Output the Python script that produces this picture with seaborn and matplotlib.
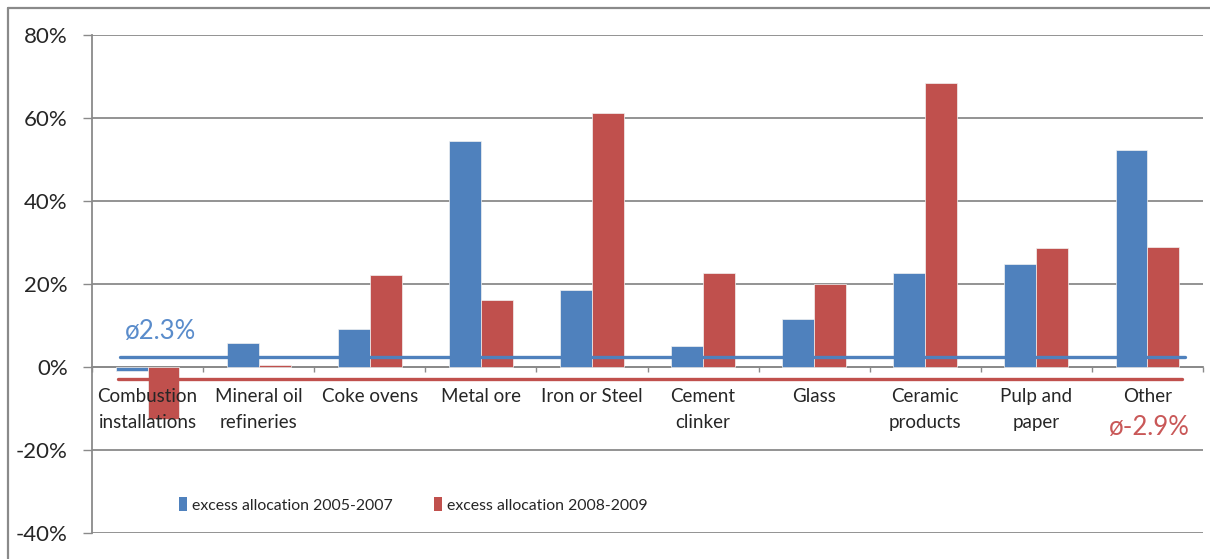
import matplotlib
matplotlib.use("Agg")
import matplotlib.pyplot as plt
from matplotlib.patches import Patch
from matplotlib.lines import Line2D
import seaborn as sns
import pandas as pd

# Sector categories and excess allocation shares (%)
categories = ["Combustion\ninstallations", "Mineral oil\nrefineries", "Coke ovens",
              "Metal ore", "Iron or Steel", "Cement\nclinker", "Glass",
              "Ceramic\nproducts", "Pulp and\npaper", "Other"]
excess_2005_2007 = [-0.9, 5.8, 9.2, 54.5, 18.4, 4.9, 11.6, 22.7, 24.9, 52.2]
excess_2008_2009 = [-12.5, 0.5, 22.2, 16.0, 61.2, 22.7, 20.0, 68.5, 28.6, 29.0]
series_names = ["excess allocation 2005-2007", "excess allocation 2008-2009"]
avg_2005_2007 = 2.3
avg_2008_2009 = -2.9
y_ticks = [-40, -20, 0, 20, 40, 60, 80]

BLUE = "#4F81BD"
RED = "#C0504D"
GRID = "#8A8A8A"
TEXT = "#262626"

sns.set_style("white")
plt.rcParams["font.family"] = ["Lato", "DejaVu Sans"]

df = pd.DataFrame({
    "category": categories * 2,
    "value": excess_2005_2007 + excess_2008_2009,
    "period": [series_names[0]] * len(categories) + [series_names[1]] * len(categories),
})

W, H = 1210, 559
fig = plt.figure(figsize=(W / 100, H / 100), dpi=100)
ax = fig.add_axes([92 / W, 26.3 / H, 1111 / W, (532.7 - 35) / H])

sns.barplot(data=df, x="category", y="value", hue="period", order=categories,
            hue_order=series_names, palette=[BLUE, RED], saturation=1,
            width=0.575, gap=0, errorbar=None, legend=False,
            edgecolor="#f2f2f2", linewidth=0.5, ax=ax, zorder=2)

ax.set_xlim(-0.5, len(categories) - 0.5)
ax.set_ylim(-40, 80)
ax.set_xlabel("")
ax.set_ylabel("")

# horizontal gridlines sit behind the bars, category labels in front of them
ax.yaxis.set_zorder(0.5)
ax.xaxis.set_zorder(4)

ax.set_yticks(y_ticks)
ax.set_yticklabels([f"{t}%" for t in y_ticks])
ax.yaxis.grid(True, color=GRID, linewidth=1.3)
ax.tick_params(axis="y", length=6.5, width=1.0, color=GRID, pad=11,
               labelsize=16, labelcolor=TEXT, direction="out", left=True)

# spines: left axis line, category axis crossing at zero
for s in ("top", "right"):
    ax.spines[s].set_visible(False)
ax.spines["left"].set_color(GRID)
ax.spines["left"].set_linewidth(1.3)
ax.spines["bottom"].set_position(("data", 0))
ax.spines["bottom"].set_color(GRID)
ax.spines["bottom"].set_linewidth(1.3)
ax.spines["bottom"].set_zorder(1.5)

ax.set_xticks(range(len(categories)))
ax.set_xticklabels(categories, linespacing=1.68)
ax.set_xticks([i - 0.5 for i in range(len(categories) + 1)], minor=True)
ax.tick_params(axis="x", which="major", length=0, pad=15, labelsize=13.5,
               labelcolor=TEXT)
ax.tick_params(axis="x", which="minor", length=3.8, width=1.0, color=GRID,
               direction="out", bottom=True)

# average lines with their labels
ax.axhline(avg_2005_2007, xmin=0.025, xmax=0.984, color=BLUE, linewidth=2.4, zorder=5)
ax.axhline(avg_2008_2009, xmin=0.0235, xmax=0.981, color=RED, linewidth=2.4, zorder=5)
ax.annotate(f"ø{avg_2005_2007}%", xy=(0.0297, avg_2005_2007),
            xycoords=("axes fraction", "data"), xytext=(0, 26),
            textcoords="offset pixels", ha="left", va="center",
            fontsize=18.5, color="#5A8CCB", zorder=6)
ax.annotate(f"ø{avg_2008_2009}%", xy=(0.988, avg_2008_2009),
            xycoords=("axes fraction", "data"), xytext=(0, -49),
            textcoords="offset pixels", ha="right", va="center",
            fontsize=18.5, color="#C95858", zorder=6)

# legend
handles = [Patch(facecolor=BLUE, edgecolor="none"), Patch(facecolor=RED, edgecolor="none")]
leg = fig.legend(handles, series_names, loc="center left",
                 bbox_to_anchor=(179 / W, 1 - 505 / H), bbox_transform=fig.transFigure,
                 ncol=2, frameon=False, borderpad=0, borderaxespad=0,
                 handlelength=0.5, handleheight=0.95, handletextpad=0.32,
                 columnspacing=2.6, prop={"size": 11.4})
for t in leg.get_texts():
    t.set_color(TEXT)

# outer chart frame (left and top edges)
fig.add_artist(Line2D([8 / W, 8 / W], [0, 1 - 7.5 / H], transform=fig.transFigure,
                      color=GRID, linewidth=1.6))
fig.add_artist(Line2D([8 / W, 1], [1 - 7.5 / H, 1 - 7.5 / H], transform=fig.transFigure,
                      color=GRID, linewidth=1.6))

fig.savefig("out.png", dpi=100, facecolor="white")
